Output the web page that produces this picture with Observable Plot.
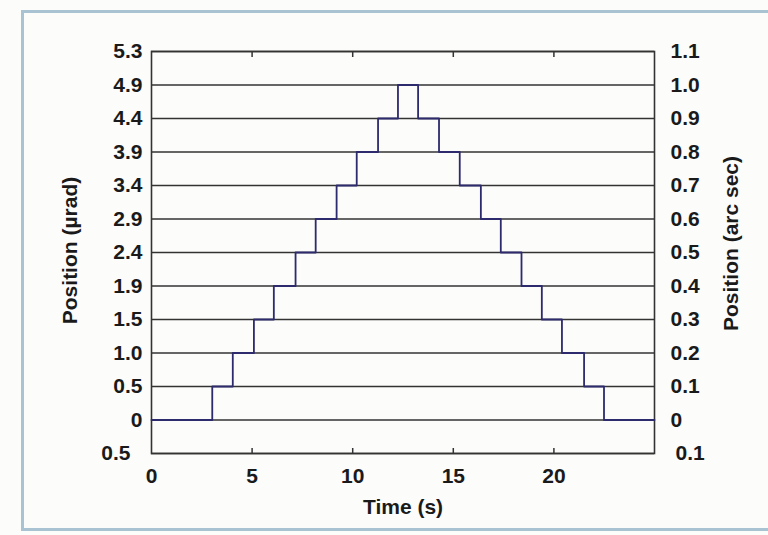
<!DOCTYPE html>
<html><head><meta charset="utf-8">
<script src="https://cdn.jsdelivr.net/npm/d3@7"></script>
<script src="https://cdn.jsdelivr.net/npm/@observablehq/plot@0.6"></script>
<style>
body{margin:0;background:#fcfcfa;}
#wrap{position:relative;width:768px;height:535px;overflow:hidden;}
#border{position:absolute;left:21px;top:10px;width:760px;height:521px;border:3px solid #a9c3d3;box-sizing:border-box;}
#wrap svg{position:absolute;left:0;top:0;}
</style></head><body><div id="wrap"><div id="border"></div></div>
<script>
// Step response: time (s) and position (arc sec)
const stepTimes = [0, 3.02, 4.04, 5.09, 6.08, 7.16, 8.16, 9.2, 10.2, 11.26, 12.25, 13.25, 14.29, 15.32, 16.37, 17.36, 18.39, 19.4, 20.4, 21.5, 22.49, 25];
const stepValues = [0, 0.1, 0.2, 0.3, 0.4, 0.5, 0.6, 0.7, 0.8, 0.9, 1.0, 0.9, 0.8, 0.7, 0.6, 0.5, 0.4, 0.3, 0.2, 0.1, 0, 0];
const yTicks = [-0.1, 0, 0.1, 0.2, 0.3, 0.4, 0.5, 0.6, 0.7, 0.8, 0.9, 1.0, 1.1];
const leftLabels = ["0.5", "0", "0.5", "1.0", "1.5", "1.9", "2.4", "2.9", "3.4", "3.9", "4.4", "4.9", "5.3"];
const rightLabels = ["0.1", "0", "0.1", "0.2", "0.3", "0.4", "0.5", "0.6", "0.7", "0.8", "0.9", "1.0", "1.1"];
const xTicks = [0, 5, 10, 15, 20];
const xDomain = [0, 25];
const yDomain = [-0.1, 1.1];

const data = stepTimes.map((t, i) => ({t, v: stepValues[i]}));
const lab = (arr) => (d) => arr[yTicks.indexOf(d)];
const fs = 21;
const ink = "#1a1a1a";

const chart = Plot.plot({
  width: 768, height: 535,
  marginLeft: 151, marginRight: 114, marginTop: 51, marginBottom: 82,
  style: {background: "transparent", fontFamily: "'Liberation Sans', Arial, sans-serif", fontWeight: "bold", color: ink, fontSize: fs + "px"},
  x: {domain: xDomain},
  y: {domain: yDomain},
  marks: [
    Plot.gridY(yTicks, {stroke: "#333", strokeOpacity: 1, strokeWidth: 1.6}),
    Plot.frame({stroke: "#333", strokeWidth: 1.6}),
    Plot.axisX(xTicks, {anchor: "bottom", tickSize: 0, tickPadding: 15, fontSize: fs, label: null, fill: ink}),
    Plot.axisX(xTicks.slice(1), {anchor: "bottom", tickSize: -5, text: null, label: null, stroke: "#333", strokeWidth: 1.5}),
    Plot.axisX(xTicks.slice(1), {anchor: "top", tickSize: -5, text: null, label: null, stroke: "#333", strokeWidth: 1.5}),
    Plot.axisY(yTicks.slice(1), {anchor: "left", tickSize: 0, tickPadding: 9, tickFormat: lab(leftLabels), fontSize: fs, label: null, fill: ink}),
    Plot.axisY([-0.1], {anchor: "left", tickSize: 0, tickPadding: 21, tickFormat: lab(leftLabels), fontSize: fs, label: null, fill: ink}),
    Plot.axisY(yTicks.slice(1), {anchor: "right", tickSize: 0, tickPadding: 16, tickFormat: lab(rightLabels), fontSize: fs, label: null, fill: ink}),
    Plot.axisY([-0.1], {anchor: "right", tickSize: 0, tickPadding: 21, tickFormat: lab(rightLabels), fontSize: fs, label: null, fill: ink}),
    Plot.line(data, {x: "t", y: "v", curve: "step-after", stroke: "#2d2a6e", strokeWidth: 1.8}),
    Plot.text(["Time (s)"], {frameAnchor: "bottom", dy: 54, lineAnchor: "middle", textAnchor: "middle", fontSize: 21, fontWeight: "bold", fill: ink}),
    Plot.text(["Position (\u00b5rad)"], {frameAnchor: "left", dx: -81, dy: -2, textAnchor: "middle", lineAnchor: "middle", rotate: -90, fontSize: 21, fontWeight: "bold", fill: ink}),
    Plot.text(["Position (arc sec)"], {frameAnchor: "right", dx: 77, dy: -9, textAnchor: "middle", lineAnchor: "middle", rotate: -90, fontSize: 21, fontWeight: "bold", fill: ink})
  ]
});
document.getElementById("wrap").appendChild(chart);
</script>
</body></html>
